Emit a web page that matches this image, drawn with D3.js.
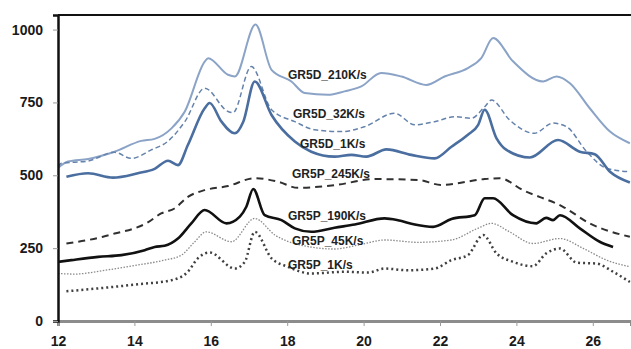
<!DOCTYPE html>
<html><head><meta charset="utf-8">
<script src="https://cdn.jsdelivr.net/npm/d3@7"></script>
<style>
body{margin:0;background:#fff;}
svg{display:block;}
</style></head>
<body>
<svg id="c" width="631" height="349"></svg>
<script>
const xTicks = [12,14,16,18,20,22,24,26];
const yTicks = [0,250,500,750,1000];

const d210X = [12.0,12.26,12.79,13.48,14.18,14.53,14.97,15.32,15.84,15.93,16.45,16.63,17.17,17.59,18.11,18.46,19.07,19.5,19.94,20.46,20.99,21.64,22.12,22.73,23.08,23.39,23.91,24.70,25.05,25.40,25.92,26.45,26.97];
const d210Y = [525,547,556,581,618,625,661,719,890,902,845,839,1017,862,822,782,776,788,805,851,839,810,839,868,902,971,891,822,839,816,730,650,610];

const d32X = [12.0,12.09,12.79,13.48,13.92,14.44,14.87,15.32,15.84,16.45,16.58,17.06,17.59,18.2,18.72,19.42,20.03,20.81,21.34,21.86,22.39,22.82,23.17,23.35,23.82,24.47,24.96,25.31,25.84,26.36,26.97];
const d32Y = [530,541,549,579,558,587,616,684,799,719,715,873,725,684,656,650,667,713,673,684,701,696,735,758,690,644,679,667,581,524,512];

const d1X = [12.22,12.79,13.44,14.09,14.53,14.88,15.14,15.40,15.84,15.97,16.28,16.63,16.85,17.15,17.59,18.2,18.63,19.24,19.68,20.07,20.60,21.25,21.86,22.30,22.73,23.0,23.17,23.48,23.74,24.35,25.09,25.66,26.05,26.45,26.97];
const d1Y = [495,507,492,507,522,550,535,604,730,748,684,644,684,822,707,616,581,564,570,564,589,570,558,598,639,673,725,627,587,561,621,581,572,512,475];

const p245X = [12.22,12.79,13.18,13.48,14.0,14.31,14.70,15.05,15.40,15.84,16.45,17.15,17.76,18.28,19.24,20.29,21.42,22.03,23.17,23.56,24.17,25.22,25.92,26.97];
const p245Y = [266,278,289,300,318,335,369,386,426,449,463,490,478,457,466,487,484,467,487,490,449,392,335,289];

const p190X = [12.0,12.35,13.05,13.66,14.27,14.53,14.79,15.14,15.49,15.84,16.41,16.76,16.93,17.11,17.41,17.85,18.20,18.63,19.24,19.77,20.55,20.90,21.34,21.82,22.30,22.91,23.17,23.39,23.91,24.52,24.78,24.96,25.14,25.66,26.18,26.53];
const p190Y = [203,209,220,226,243,254,258,283,335,381,335,358,392,453,363,346,318,306,320,331,352,346,331,323,350,363,421,421,363,335,354,346,363,318,272,254];

const p45X = [12.0,12.44,13.22,14.09,14.79,15.23,15.58,15.88,16.54,17.15,17.68,18.37,19.24,19.94,20.55,21.42,22.30,22.99,23.35,23.82,24.43,25.14,25.75,26.36,26.97];
const p45Y = [163,161,174,192,209,226,272,306,272,352,295,260,247,263,278,270,278,318,335,306,266,283,249,209,186];

const p1X = [12.22,13.22,14.09,14.97,15.40,15.66,15.97,16.63,16.89,17.15,17.59,18.02,18.63,19.50,20.12,20.55,21.16,21.86,22.30,22.73,23.13,23.48,23.91,24.43,24.78,25.14,25.58,26.10,26.53,26.97];
const p1Y = [102,114,126,140,169,215,235,180,203,306,215,186,163,169,166,180,174,180,209,226,295,232,203,188,232,249,200,197,169,134];

const labels = ["GR5D_210K/s","GR5D_32K/s","GR5D_1K/s","GR5P_245K/s","GR5P_190K/s","GR5P_45K/s","GR5P_1K/s"];

const series = [
  {x:d210X, y:d210Y, color:"#8aa3c6", w:2, dash:null},
  {x:d32X, y:d32Y, color:"#6482ab", w:1.5, dash:"5,3"},
  {x:d1X, y:d1Y, color:"#4a6e9f", w:2.6, dash:null},
  {x:p245X, y:p245Y, color:"#303030", w:2, dash:"7,5"},
  {x:p190X, y:p190Y, color:"#111111", w:2.6, dash:null},
  {x:p45X, y:p45Y, color:"#8a8a8a", w:1.3, dash:"1.5,1.5"},
  {x:p1X, y:p1Y, color:"#404040", w:2.5, dash:"2,3"}
];
const labelPos = [[288,75],[293,114],[300,144],[292,174],[288,216],[292,241],[288,265]];

const svg = d3.select("#c");
const pL = 58, pR = 631, pT = 15, pB = 321;
const x = d3.scaleLinear().domain([12,27]).range([pL,pR]);
const y = d3.scaleLinear().domain([0,1050]).range([pB,pT]);

svg.append("defs").append("clipPath").attr("id","clip")
  .append("rect").attr("x",pL).attr("y",pT).attr("width",pR-pL).attr("height",pB-pT);

const line = d3.line().x(d=>x(d[0])).y(d=>y(d[1])).curve(d3.curveMonotoneX);
const g = svg.append("g").attr("clip-path","url(#clip)");
series.forEach(s=>{
  const pts = s.x.map((v,i)=>[v,s.y[i]]);
  g.append("path").attr("d",line(pts)).attr("fill","none")
    .attr("stroke",s.color).attr("stroke-width",s.w)
    .attr("stroke-dasharray",s.dash).attr("stroke-linejoin","round");
});

svg.append("line").attr("x1",pL).attr("x2",pR).attr("y1",pT).attr("y2",pT)
  .attr("stroke","#111").attr("stroke-width",2);

const xa = svg.append("g").attr("transform",`translate(0,${pB})`)
  .call(d3.axisBottom(x).tickValues(xTicks).tickSize(5).tickPadding(10).tickFormat(d3.format("d")));
xa.select(".domain").attr("stroke","#8c8c8c").attr("stroke-width",3);
xa.selectAll(".tick line").attr("stroke","#999");
xa.selectAll("text").attr("font-family","Liberation Sans, Arial, sans-serif").attr("font-weight","bold").attr("font-size",14).attr("fill","#1a1a1a");

const ya = svg.append("g").attr("transform",`translate(${pL},0)`)
  .call(d3.axisLeft(y).tickValues(yTicks).tickSize(5).tickPadding(10).tickFormat(d3.format("d")));
ya.select(".domain").attr("stroke","#111").attr("stroke-width",2.5);
ya.selectAll(".tick line").attr("stroke","#999");
ya.selectAll("text").attr("font-family","Liberation Sans, Arial, sans-serif").attr("font-weight","bold").attr("font-size",14).attr("fill","#1a1a1a");

labels.forEach((t,i)=>{
  svg.append("text").attr("x",labelPos[i][0]).attr("y",labelPos[i][1]).attr("dy","0.35em")
    .attr("font-family","Liberation Sans, Arial, sans-serif").attr("font-weight","bold")
    .attr("font-size",12).attr("fill","#222").text(t);
});
</script>
</body></html>
